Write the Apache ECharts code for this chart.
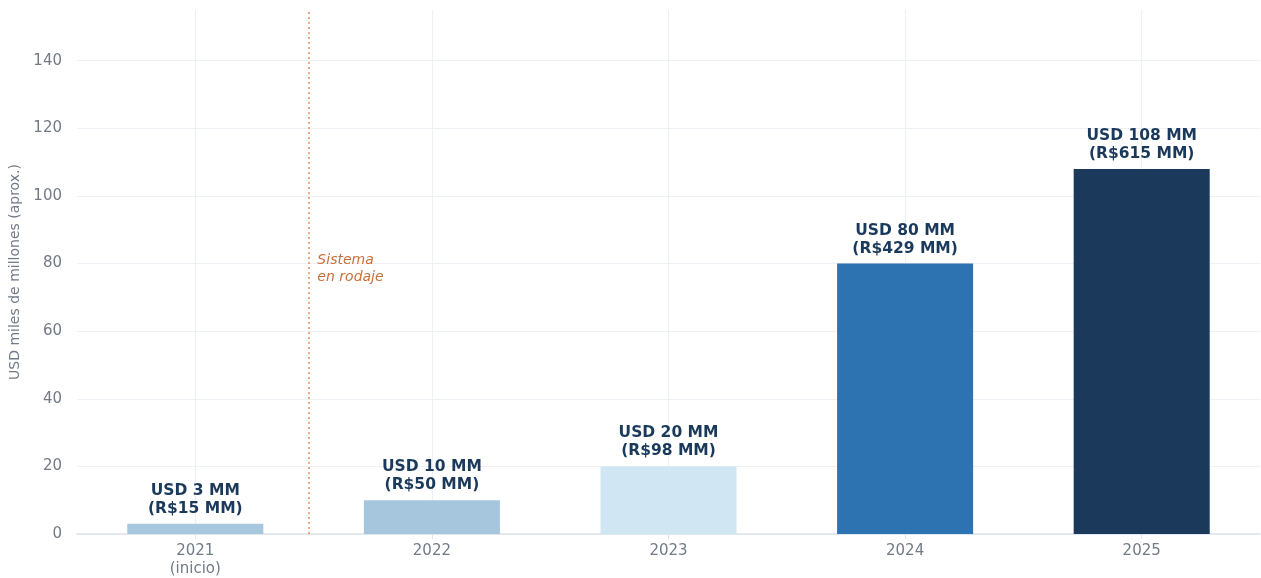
<!DOCTYPE html>
<html>
<head>
<meta charset="utf-8">
<script src="https://cdn.jsdelivr.net/npm/echarts@6/dist/echarts.min.js"></script>
<style>html,body{margin:0;padding:0;background:#fff}#c{width:1261px;height:578px}</style>
</head>
<body>
<div id="c"></div>
<script>
var categories = ['2021\n(inicio)', '2022', '2023', '2024', '2025'];
var usdValues = [3, 10, 20, 80, 108];
var usdLabels = ['USD 3 MM', 'USD 10 MM', 'USD 20 MM', 'USD 80 MM', 'USD 108 MM'];
var brlLabels = ['(R$15 MM)', '(R$50 MM)', '(R$98 MM)', '(R$429 MM)', '(R$615 MM)'];
var barColors = ['#a7c7df', '#a6c6de', '#d1e6f3', '#2d73b2', '#1b3a5b'];
var yTicks = [0, 20, 40, 60, 80, 100, 120, 140];
var phaseLinePos = 0.48;
var phaseLabel = 'Sistema\nen rodaje';

var chart = echarts.init(document.getElementById('c'));
var font = 'DejaVu Sans';
chart.setOption({
  animation: false,
  grid: { left: 77, right: 1, top: 10, bottom: 44, containLabel: false },
  xAxis: [{
    type: 'category',
    data: categories,
    axisLine: { show: true, lineStyle: { color: '#dde4ec', width: 1.5 } },
    axisTick: { show: true, alignWithLabel: true, length: 5, lineStyle: { color: '#dde4ec' } },
    axisLabel: { fontFamily: font, fontSize: 15, color: '#727a88', lineHeight: 18, margin: 8 },
    splitLine: { show: false }
  }, {
    type: 'value', min: -0.5, max: 4.5, show: false
  }],
  yAxis: {
    type: 'value', min: 0, max: 155, interval: 20,
    name: 'USD miles de millones (aprox.)',
    nameLocation: 'middle', nameGap: 54,
    nameTextStyle: { fontFamily: font, fontSize: 14, color: '#727a88' },
    axisLine: { show: false }, axisTick: { show: false },
    axisLabel: { fontFamily: font, fontSize: 15, color: '#727a88', margin: 15, showMaxLabel: false,
      formatter: function (v) { return yTicks.indexOf(v) >= 0 ? String(v) : ''; } },
    splitLine: { show: true, showMaxLine: false, lineStyle: { color: '#edf0f5', width: 1.2 } }
  },
  series: [{
    type: 'bar',
    xAxisIndex: 0,
    barWidth: '57.5%',
    data: usdValues.map(function (v, i) {
      return { value: v, itemStyle: { color: barColors[i] } };
    }),
    label: {
      show: true, position: 'top', distance: 6,
      fontFamily: font, fontSize: 15.5, fontWeight: 'bold', color: '#1b3a5b', lineHeight: 18,
      formatter: function (p) { return usdLabels[p.dataIndex] + '\n' + brlLabels[p.dataIndex]; }
    },
    z: 3
  }, {
    type: 'line',
    xAxisIndex: 1,
    data: [],
    silent: true,
    z: 1,
    markLine: {
      z: 1,
      symbol: 'none', silent: true,
      label: { show: false },
      lineStyle: { color: '#edf0f5', width: 1.2, type: 'solid' },
      data: [0, 1, 2, 3, 4].map(function (i) { return { xAxis: i }; })
    }
  }, {
    type: 'line',
    xAxisIndex: 1,
    data: [],
    silent: true,
    z: 4,
    markLine: {
      symbol: 'none', silent: true,
      lineStyle: { color: '#e58c5c', width: 1.5, type: [2, 3] },
      label: { show: false },
      data: [{ xAxis: phaseLinePos }]
    },
    markPoint: {
      symbol: 'rect', symbolSize: 1, silent: true,
      itemStyle: { color: 'transparent' },
      label: {
        show: true, position: 'right', distance: 8, align: 'left',
        fontFamily: font, fontSize: 14, fontStyle: 'italic', color: '#c8703a', lineHeight: 17,
        formatter: phaseLabel
      },
      data: [{ coord: [phaseLinePos, 78.5] }]
    }
  }]
});
</script>
</body>
</html>
